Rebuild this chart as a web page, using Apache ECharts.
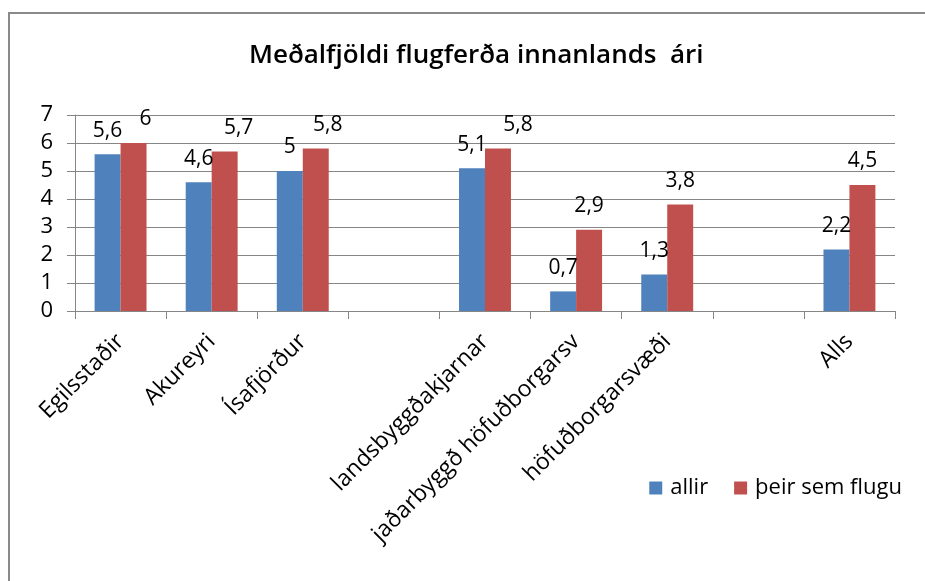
<!DOCTYPE html>
<html>
<head>
<meta charset="utf-8">
<script src="https://cdn.jsdelivr.net/npm/echarts@6/dist/echarts.min.js"></script>
<style>
  html,body{margin:0;padding:0;background:#fff;}
  #chart{width:925px;height:581px;}
</style>
</head>
<body>
<div id="chart"></div>
<script>
// flokkar (tómir reitir eru bil á milli hópa)
var categories = ['Egilsstaðir', 'Akureyri', 'Ísafjörður', '', 'landsbyggðakjarnar', 'jaðarbyggð höfuðborgarsv', 'höfuðborgarsvæði', '', 'Alls']
var allir = [5.6, 4.6, 5, null, 5.1, 0.7, 1.3, null, 2.2]
var flugu = [6, 5.7, 5.8, null, 5.8, 2.9, 3.8, null, 4.5]
var seriesNames = ['allir', 'þeir sem flugu']

var font = '"Open Sans", "Noto Sans", sans-serif'

// hliðrun gagnamerkja eins og í frumritinu
var redShift = {0: 12, 1: 14, 2: 12, 4: 20}

function withLabels(values, shift) {
  return values.map(function (v, i) {
    if (v === null) return '-'
    var dx = shift[i] || 0
    return {value: v, label: {offset: [dx, 0]}}
  })
}

var chart = echarts.init(document.getElementById('chart'))
var labelStyle = {
  show: true,
  position: 'top',
  distance: 13,
  color: '#000',
  fontFamily: font,
  fontSize: 21,
  formatter: function (p) {
    return String(p.value).replace('.', ',')
  }
}

var option = {
  animation: false,
  title: {
    text: 'Meðalfjöldi flugferða innanlands  ári',
    left: 244,
    top: 38,
    textStyle: {fontFamily: font, fontWeight: 600, fontSize: 26, color: '#000'}
  },
  graphic: [{
    type: 'rect',
    shape: {x: 9, y: 13, width: 940, height: 600},
    style: {fill: 'none', stroke: '#8a8a8a', lineWidth: 2}
  }],
  legend: {
    data: seriesNames,
    right: 18,
    top: 472,
    itemWidth: 13,
    itemHeight: 13,
    itemGap: 26,
    icon: 'rect',
    textStyle: {fontFamily: font, fontSize: 22, color: '#000', padding: [0, 0, 0, 3]}
  },
  grid: {left: 75, right: 30, top: 115, bottom: 270, containLabel: false, outerBoundsMode: 'none'},
  xAxis: {
    type: 'category',
    data: categories,
    axisLine: {lineStyle: {color: '#868686'}},
    axisTick: {show: true, length: 8, alignWithLabel: false, lineStyle: {color: '#868686'}},
    axisLabel: {
      interval: 0,
      rotate: 45,
      margin: 27,
      color: '#000',
      fontFamily: font,
      fontSize: 23
    }
  },
  yAxis: {
    type: 'value',
    min: 0,
    max: 7,
    interval: 1,
    axisLine: {show: true, lineStyle: {color: '#868686'}},
    axisTick: {show: true, length: 8, lineStyle: {color: '#868686'}},
    splitLine: {lineStyle: {color: '#868686', width: 1}},
    axisLabel: {margin: 22, color: '#000', fontFamily: font, fontSize: 22}
  },
  series: [
    {
      name: seriesNames[0],
      type: 'bar',
      barGap: 0,
      barCategoryGap: '43%',
      itemStyle: {color: '#4F81BD'},
      label: labelStyle,
      data: withLabels(allir, {})
    },
    {
      name: seriesNames[1],
      type: 'bar',
      barGap: 0,
      barCategoryGap: '43%',
      itemStyle: {color: '#C0504D'},
      label: labelStyle,
      data: withLabels(flugu, redShift)
    }
  ]
}
chart.setOption(option)
window.addEventListener('resize', function () {
  chart.resize()
})
</script>
</body>
</html>
